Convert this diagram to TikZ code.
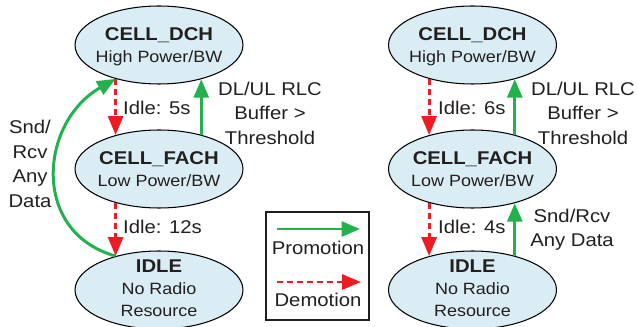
\documentclass[tikz,border=0pt]{standalone}
\usepackage{fontspec}
\setmainfont{Liberation Sans}[FakeStretch=1.1]
\usepackage{tikz}
\usetikzlibrary{shapes.geometric, arrows.meta}
\definecolor{statefill}{RGB}{218,237,244}
\definecolor{promgreen}{RGB}{34,177,76}
\definecolor{demred}{RGB}{237,28,36}
\definecolor{txtgray}{RGB}{35,31,32}
\newcommand{\sub}[1]{{\fontsize{9.3}{12}\selectfont #1}}

\begin{document}
\begin{tikzpicture}[x=0.02cm, y=-0.02cm,
    promote/.style={draw=promgreen, line width=1.7pt,
                    -{Triangle[length=0.37cm,width=0.3cm]}},
    demote/.style={draw=demred, line width=1.7pt, dash pattern=on 3.4pt off 2.3pt,
                   -{Triangle[length=0.38cm,width=0.3cm]}}]
  \tikzstyle{every node}=[text=txtgray, font=\fontsize{10.5}{13.9}\selectfont]
  \tikzstyle{rrc}=[ellipse, draw=black, fill=statefill, line width=0.6pt,
                   minimum width=3.36cm, minimum height=1.56cm, inner sep=0pt]
  \tikzstyle{rrctext}=[align=center, font=\fontsize{10.5}{12.5}\selectfont]

  \useasboundingbox (0,0) rectangle (638,327);

  % left machine
  \node[rrc] (dchA)  at (159,45)  {};
  \node[rrc] (fachA) at (159,169) {};
  \node[rrc] (idleA) at (159,290) {};
  \node[rrctext] (dchAtxt)  at (159,47)  {\textbf{CELL\_DCH}\\\sub{High Power/BW}};
  \node[rrctext] (fachAtxt) at (159,169) {\textbf{CELL\_FACH}\\\sub{Low Power/BW}};
  \node[rrctext] (idleAtxt) at (159,288) {\textbf{IDLE}\\\sub{No Radio}\\\sub{Resource}};

  \draw[demote]  (dchA.218) -- (fachA.142);
  \draw[demote]  (fachA.218) -- (idleA.142);
  \draw[promote] (fachA.39) -- (dchA.321);
  \draw[promote] (idleA.142) .. controls (30,232) and (40,122) .. (dchA.218);

  \node[anchor=west] (idle5)  at (117,108) {Idle: 5s};
  \node[anchor=west] (idle12) at (117,227) {Idle: 12s};
  \node[align=center] (bufA) at (270,113) {DL/UL RLC\\Buffer >\\Threshold};
  \node[align=center] (sndA) at (30,164)  {Snd/\\Rcv\\Any\\Data};

  % legend
  \node[draw=txtgray, line width=0.8pt, minimum width=2.06cm, minimum height=2.16cm,
        inner sep=0pt] (legend) at (317.5,266) {};
  \coordinate (proma) at (277,229);
  \coordinate (promb) at (360,229);
  \coordinate (dema)  at (277,282);
  \coordinate (demb)  at (361,282);
  \draw[promote] (proma) -- (promb);
  \draw[demote]  (dema) -- (demb);
  \node (promtxt) at (318,248) {Promotion};
  \node (demtxt)  at (318,300) {Demotion};

  % right machine
  \node[rrc] (dchB)  at (472.5,45)  {};
  \node[rrc] (fachB) at (472.5,169) {};
  \node[rrc] (idleB) at (472.5,290) {};
  \node[rrctext] (dchBtxt)  at (472.5,47)  {\textbf{CELL\_DCH}\\\sub{High Power/BW}};
  \node[rrctext] (fachBtxt) at (472.5,169) {\textbf{CELL\_FACH}\\\sub{Low Power/BW}};
  \node[rrctext] (idleBtxt) at (472.5,288) {\textbf{IDLE}\\\sub{No Radio}\\\sub{Resource}};

  \draw[demote]  (dchB.218) -- (fachB.142);
  \draw[demote]  (fachB.218) -- (idleB.142);
  \draw[promote] (fachB.39) -- (dchB.321);
  \draw[promote] (idleB.39) -- (fachB.321);

  \node[anchor=west] (idle6) at (432,108) {Idle: 6s};
  \node[anchor=west] (idle4) at (432,227) {Idle: 4s};
  \node[align=center] (bufB) at (583,113) {DL/UL RLC\\Buffer >\\Threshold};
  \node[align=center] (sndB) at (572,230) {Snd/Rcv\\Any Data};
\end{tikzpicture}
\end{document}
